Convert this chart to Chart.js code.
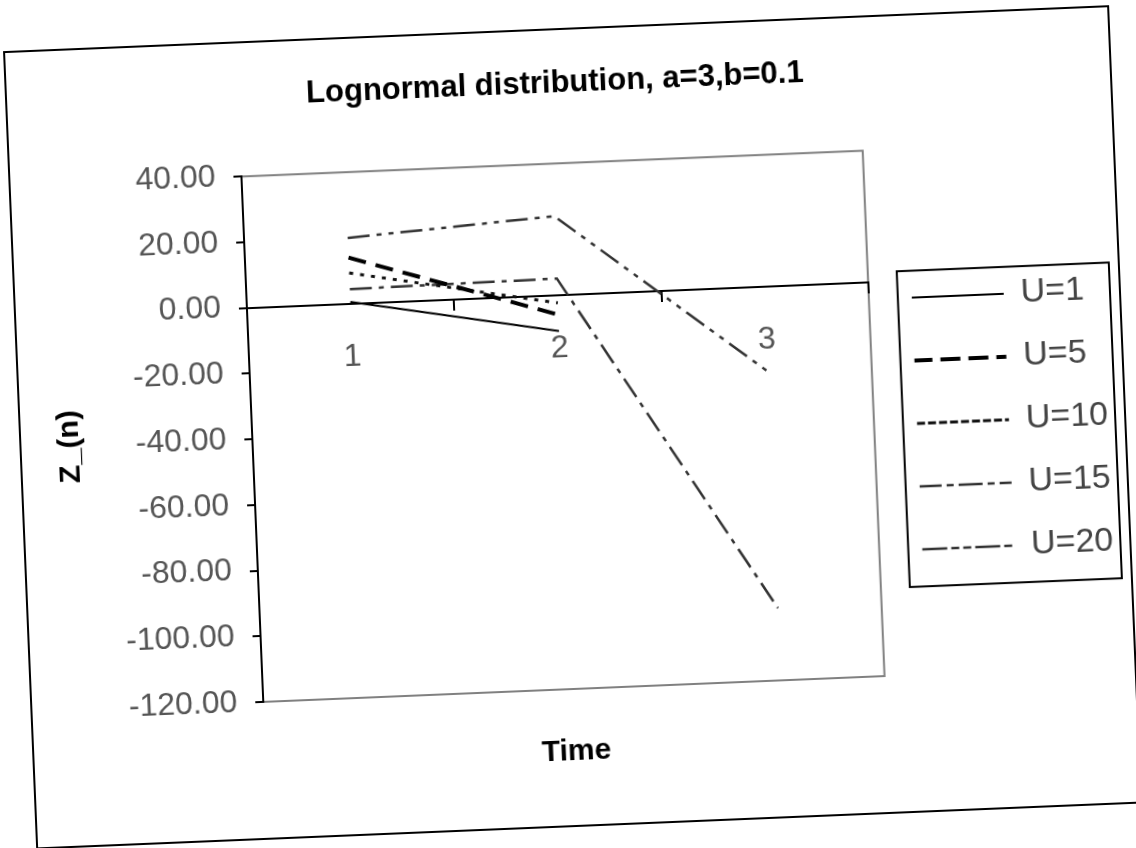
<!DOCTYPE html>
<html>
<head>
<meta charset="utf-8">
<script src="https://cdn.jsdelivr.net/npm/chart.js@4.4.1/dist/chart.umd.min.js"></script>
<style>
    html, body { margin: 0; padding: 0; background: #fff; overflow: hidden; }
    /* the scanned chart sits slightly tilted on the page */
    #wrap {
        position: absolute; left: 0; top: 0;
        width: 1136px; height: 848px;
        transform: rotate(-2.38deg);
        transform-origin: 568px 424px;
    }
</style>
</head>
<body>
<div id="wrap"><canvas id="lognormalChart"></canvas></div>
<script>
// Time steps on the x axis
const timeLabels = ['1', '2', '3'];

// Z_(n) for each starting value U (blank where the series stops)
const seriesNames = ['U=1', 'U=5', 'U=10', 'U=15', 'U=20'];
const zU1 = [0.5, -11, null];
const zU5 = [14, -6, null];
const zU10 = [9.3, -2.4, null];
const zU15 = [4.4, 5, -98];
const zU20 = [20, 24, -26];

// Value axis range
const yMin = -120;
const yMax = 40;
const yStep = 20;

const textFont = "'Liberation Sans', Arial, sans-serif";

// Page frame, plot area border and legend frame, like the Excel original
const framePlugin = {
    id: 'framePlugin',
    beforeDraw(chart) {
        const ctx = chart.ctx;
        const area = chart.chartArea;
        ctx.save();
        ctx.fillStyle = '#fff';
        ctx.fillRect(0, 0, chart.width, chart.height);
        ctx.strokeStyle = '#000';
        ctx.lineWidth = 2;
        ctx.strokeRect(20, 29, 1105, 797);
        ctx.strokeStyle = '#808080';
        ctx.strokeRect(area.left, area.top, area.right - area.left, area.bottom - area.top);
        ctx.restore();
    },
    afterDraw(chart) {
        const boxes = chart.legend && chart.legend.legendHitBoxes;
        if (!boxes || !boxes.length) return;
        const first = boxes[0];
        const last = boxes[boxes.length - 1];
        const right = Math.max(...boxes.map(b => b.left + b.width)) + 7;
        const left = first.left - 14;
        const top = first.top - 10;
        const bottom = last.top + last.height + 20;
        const ctx = chart.ctx;
        ctx.save();
        ctx.strokeStyle = '#000';
        ctx.lineWidth = 2;
        ctx.strokeRect(left, top, right - left, bottom - top);
        ctx.restore();
    }
};

const ctx = document.getElementById('lognormalChart').getContext('2d');

new Chart(ctx, {
    type: 'line',
    data: {
        labels: timeLabels,
        datasets: [
            {
                label: seriesNames[0],
                data: zU1,
                borderColor: '#000',
                backgroundColor: 'transparent',
                borderWidth: 2,
                borderDash: []
            },
            {
                label: seriesNames[1],
                data: zU5,
                borderColor: '#000',
                backgroundColor: 'transparent',
                borderWidth: 4,
                borderDash: [18, 10]
            },
            {
                label: seriesNames[2],
                data: zU10,
                borderColor: '#111',
                backgroundColor: 'transparent',
                borderWidth: 3,
                borderDash: [4, 7]
            },
            {
                label: seriesNames[3],
                data: zU15,
                borderColor: '#333',
                backgroundColor: 'transparent',
                borderWidth: 2.5,
                borderDash: [22, 7, 5, 7]
            },
            {
                label: seriesNames[4],
                data: zU20,
                borderColor: '#333',
                backgroundColor: 'transparent',
                borderWidth: 2.5,
                borderDash: [22, 7, 5, 7, 5, 7]
            }
        ]
    },
    options: {
        responsive: true,
        maintainAspectRatio: false,
        animation: false,
        elements: {
            point: { radius: 0, hoverRadius: 0 },
            line: { tension: 0, fill: false }
        },
        layout: {
            padding: { left: 20, right: 18, top: 30, bottom: 78 }
        },
        plugins: {
            tooltip: { enabled: false },
            title: {
                display: true,
                text: 'Lognormal distribution, a=3,b=0.1',
                color: '#000',
                font: { family: textFont, size: 31, weight: 'bold' },
                padding: { top: 35, bottom: 61 }
            },
            legend: {
                display: true,
                position: 'right',
                fullSize: false,
                maxWidth: 260,
                title: {
                    display: true,
                    text: ' ',
                    font: { size: 10 },
                    padding: 6
                },
                labels: {
                    color: '#444',
                    font: { family: textFont, size: 34 },
                    boxWidth: 92,
                    boxHeight: 0,
                    padding: 29
                }
            }
        },
        scales: {
            x: {
                type: 'category',
                position: { y: 0 },
                offset: true,
                ticks: {
                    color: '#555',
                    font: { family: textFont, size: 32 },
                    padding: 24,
                    maxRotation: 0
                },
                grid: {
                    offset: true,
                    drawOnChartArea: false,
                    drawTicks: true,
                    tickLength: 10,
                    color: '#000',
                    lineWidth: 2
                },
                border: { display: true, color: '#000', width: 2 }
            },
            timeAxis: {
                type: 'category',
                position: 'bottom',
                ticks: { display: false },
                grid: { display: false, drawTicks: false },
                border: { display: false },
                title: {
                    display: true,
                    text: 'Time',
                    color: '#000',
                    font: { family: textFont, size: 30, weight: 'bold' },
                    padding: { top: 45, bottom: 0 }
                }
            },
            y: {
                type: 'linear',
                position: 'left',
                min: yMin,
                max: yMax,
                afterFit(scale) { scale.width = 232; },
                ticks: {
                    stepSize: yStep,
                    color: '#555',
                    font: { family: textFont, size: 32 },
                    padding: 18,
                    callback: (value) => Number(value).toFixed(2)
                },
                grid: {
                    drawOnChartArea: false,
                    drawTicks: true,
                    tickLength: 8,
                    color: '#000',
                    lineWidth: 2
                },
                border: { display: true, color: '#000', width: 2 },
                title: {
                    display: true,
                    text: 'Z_(n)',
                    color: '#000',
                    font: { family: textFont, size: 30, weight: 'bold' },
                    padding: { top: 32, bottom: 0 }
                }
            },
            legendGap: {
                type: 'linear',
                position: 'right',
                afterFit(scale) { scale.width = 14; },
                ticks: { display: false },
                grid: { display: false, drawTicks: false },
                border: { display: false }
            }
        }
    },
    plugins: [framePlugin]
});
</script>
</body>
</html>
